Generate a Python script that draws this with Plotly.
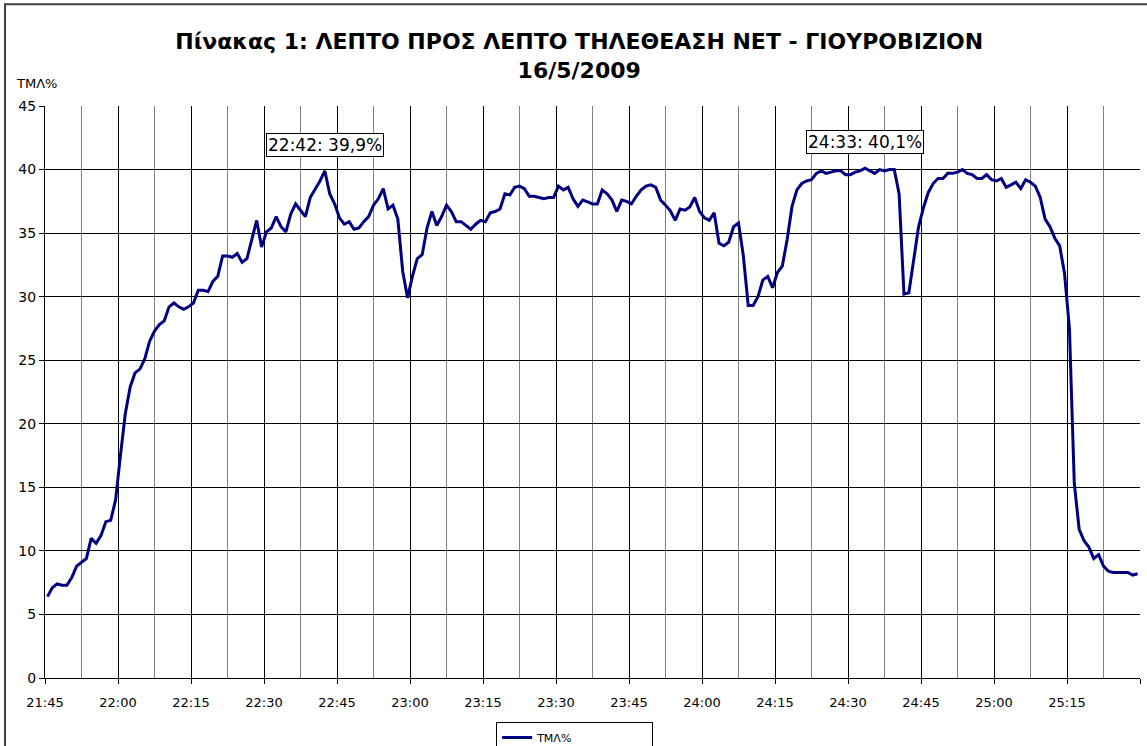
import plotly.graph_objects as go

# ---- data (ΤΜΛ% minute by minute, starting 21:45) ----
tml = [
    6.4, 7.1, 7.4, 7.3, 7.3, 7.9, 8.8, 9.1, 9.4, 11.0,
    10.6, 11.2, 12.3, 12.4, 14.0, 17.5, 20.8, 22.9, 24.0, 24.3,
    25.1, 26.5, 27.3, 27.8, 28.1, 29.2, 29.5, 29.2, 29.0, 29.2,
    29.5, 30.5, 30.5, 30.4, 31.2, 31.6, 33.2, 33.2, 33.1, 33.4,
    32.7, 33.0, 34.6, 36.0, 33.9, 35.1, 35.4, 36.3, 35.5, 35.1,
    36.5, 37.3, 36.8, 36.3, 37.8, 38.4, 39.1, 39.9, 38.1, 37.3,
    36.2, 35.7, 35.9, 35.3, 35.4, 35.9, 36.3, 37.2, 37.7, 38.5,
    36.9, 37.2, 36.1, 32.0, 29.9, 31.6, 33.0, 33.3, 35.4, 36.7,
    35.6, 36.3, 37.2, 36.7, 35.9, 35.9, 35.6, 35.3, 35.7, 36.0,
    35.9, 36.6, 36.7, 36.9, 38.1, 38.0, 38.6, 38.7, 38.5, 37.9,
    37.9, 37.8, 37.7, 37.8, 37.8, 38.7, 38.4, 38.6, 37.7, 37.1,
    37.6, 37.45, 37.3, 37.3, 38.4, 38.1, 37.6, 36.7, 37.6, 37.5,
    37.3, 37.9, 38.4, 38.7, 38.8, 38.6, 37.6, 37.2, 36.75, 36.0,
    36.9, 36.8, 37.05, 37.8, 36.7, 36.2, 36.0, 36.6, 34.2, 34.0,
    34.3, 35.5, 35.8, 33.2, 29.3, 29.3, 30.0, 31.3, 31.6, 30.7,
    31.9, 32.4, 34.5, 37.1, 38.4, 38.9, 39.1, 39.2, 39.7, 39.9,
    39.7, 39.8, 39.9, 39.9, 39.6, 39.6, 39.8, 39.9, 40.1, 39.9,
    39.7, 40.0, 39.9, 40.0, 40.0, 38.1, 30.2, 30.3, 32.9, 35.5,
    37.0, 38.2, 38.9, 39.3, 39.3, 39.7, 39.7, 39.8, 40.0, 39.7,
    39.6, 39.3, 39.3, 39.6, 39.2, 39.1, 39.3, 38.6, 38.8, 39.0,
    38.5, 39.2, 39.0, 38.7, 37.8, 36.1, 35.5, 34.6, 34.0, 31.8,
    27.5, 15.3, 11.7, 10.8, 10.3, 9.4, 9.7, 8.8, 8.4, 8.3,
    8.3, 8.3, 8.3, 8.1, 8.2,
]
start_minute = 21 * 60 + 45
times = [f"{(start_minute + k) // 60}:{(start_minute + k) % 60:02d}" for k in range(len(tml))]
minute_index = list(range(len(tml)))

tick_labels = ["21:45", "22:00", "22:15", "22:30", "22:45", "23:00", "23:15", "23:30",
               "23:45", "24:00", "24:15", "24:30", "24:45", "25:00", "25:15"]
y_ticks = [0, 5, 10, 15, 20, 25, 30, 35, 40, 45]
peak_times = ["22:42", "24:33"]
peak_values = [39.9, 40.1]

FONT = "DejaVu Sans"

fig = go.Figure()
fig.add_trace(go.Scatter(
    x=minute_index, y=tml, mode="lines", name="ΤΜΛ%",
    line=dict(color="#000080", width=3),
    customdata=times, hovertemplate="%{customdata}: %{y}%<extra></extra>",
))

tickvals = [-0.5 + 15 * k for k in range(len(tick_labels) + 1)]
ticktext = tick_labels + [""]

annotations = []
for t, v in zip(peak_times, peak_values):
    annotations.append(dict(
        x=times.index(t), y=v, xref="x", yref="y",
        text=f"{t}: {v:.1f}%".replace(".", ","),
        showarrow=False, yanchor="bottom", yshift=14,
        font=dict(family=FONT, size=17, color="black"),
        bgcolor="white", bordercolor="black", borderwidth=1, borderpad=1,
    ))
annotations.append(dict(
    x=-0.0283, y=1.0385, xref="paper", yref="paper", xanchor="left", yanchor="middle",
    text="ΤΜΛ%", showarrow=False, font=dict(family=FONT, size=13, color="black"),
))

fig.update_layout(
    width=1147, height=746,
    margin=dict(l=45, r=7, t=106, b=68),
    paper_bgcolor="white", plot_bgcolor="white",
    title=dict(
        text="Πίνακας 1: ΛΕΠΤΟ ΠΡΟΣ ΛΕΠΤΟ ΤΗΛΕΘΕΑΣΗ ΝΕΤ - ΓΙΟΥΡΟΒΙΖΙΟΝ<br>16/5/2009",
        x=0.505, xanchor="center", xref="container",
        y=0.934, yanchor="top", yref="container",
        font=dict(family=FONT, size=22, color="black", weight="bold"),
    ),
    xaxis=dict(
        range=[-0.5, 224.5], tickmode="array", tickvals=tickvals, ticktext=ticktext,
        showgrid=True, gridcolor="black", gridwidth=1,
        showline=True, linecolor="black", linewidth=1,
        ticks="outside", ticklen=5, tickcolor="black",
        ticklabelstandoff=7,
        tickfont=dict(family=FONT, size=13, color="black"),
        minor=dict(tickmode="linear", tick0=-0.5, dtick=7.5, showgrid=True,
                   gridcolor="#808080", gridwidth=1, ticks=""),
        zeroline=False, fixedrange=True,
    ),
    yaxis=dict(
        range=[0, 45], tickmode="array", tickvals=y_ticks,
        showgrid=True, gridcolor="black", gridwidth=1,
        showline=True, linecolor="black", linewidth=1,
        ticks="outside", ticklen=5, tickcolor="black",
        tickfont=dict(family=FONT, size=14, color="black"),
        zeroline=False, fixedrange=True,
    ),
    showlegend=True,
    legend=dict(
        orientation="h", xref="container", yref="container",
        x=0.501, xanchor="center", y=1 - 722 / 746, yanchor="top",
        bordercolor="black", borderwidth=1, bgcolor="white",
        font=dict(family=FONT, size=11, color="black"),
        entrywidth=110,
    ),
    annotations=annotations,
    shapes=[dict(
        type="rect", xref="paper", yref="paper",
        x0=-0.0365, x1=1.02, y0=-0.13, y1=1.178,
        line=dict(color="#404040", width=2), fillcolor="rgba(0,0,0,0)", layer="below",
    )],
)

fig.write_html("out.html", config={"displayModeBar": False},
               post_script="document.body.style.margin='0px';")
